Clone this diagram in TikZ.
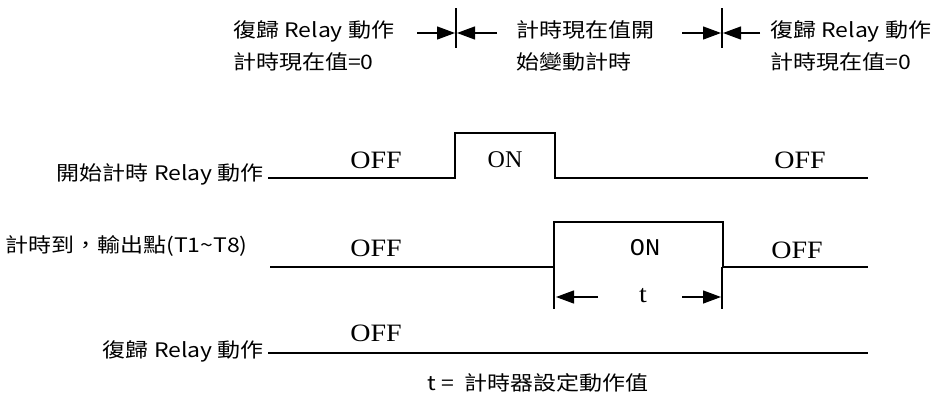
\documentclass[tikz,border=0pt]{standalone}
\usepackage{fontspec}
\setmainfont{Liberation Serif}
\newfontfamily\cjk{Noto Sans CJK TC}
\newfontfamily\monof{Liberation Mono}
\usetikzlibrary{arrows.meta}
\begin{document}
\begin{tikzpicture}[x=1pt,y=-1pt,
  sig/.style={line width=2.8pt,line join=miter,line cap=butt},
  thin/.style={line width=1.3pt},
  cjklab/.style={inner sep=0pt,font=\cjk\fontsize{20}{32}\selectfont,xscale=1.15},
  offlab/.style={inner sep=0pt,font=\fontsize{25}{25}\selectfont,xscale=1.12},
  tip/.style={-{Triangle[length=18pt,width=13pt]}},
]
\useasboundingbox (0,0) rectangle (931,394);
% top annotations
\node[cjklab,anchor=west,align=left] (n1) at (233,46) {復歸 Relay 動作\\計時現在值=0};
\node[cjklab,anchor=west,align=left] (n2) at (516,46) {計時現在值開\\始變動計時};
\node[cjklab,anchor=west,align=left] (n3) at (770,46) {復歸 Relay 動作\\計時現在值=0};
% markers
\coordinate (m1) at (456,33);
\draw[thin] (456,8) -- (456,48);
\draw[thin,tip] (417,33) -- (455,33);
\draw[thin,tip] (497,33) -- (457,33);
\coordinate (m2) at (722,33);
\draw[thin] (722,8) -- (722,48);
\draw[thin,tip] (682,33) -- (721,33);
\draw[thin,tip] (760,33) -- (723,33);
% signal 1
\node[cjklab,anchor=east] (l1) at (264,174) {開始計時 Relay 動作};
\coordinate (a0) at (268,178);
\draw[sig] (a0) -- (455,178) -- (455,133) -- (555,133) -- (555,178) -- (868,178);
\node[offlab] (o1) at (376,160) {OFF};
\node[inner sep=0pt,font=\fontsize{24}{24}\selectfont] (on1) at (505,160) {ON};
\node[offlab] (o2) at (800,160) {OFF};
% signal 2
\node[cjklab,anchor=west] (l2) at (5,246) {計時到，輸出點(T1\char`~T8)};
\coordinate (b0) at (270,267);
\draw[sig] (b0) -- (554,267) -- (554,222) -- (723,222) -- (723,267) -- (868,267);
\node[offlab] (o3) at (376,248) {OFF};
\node[inner sep=0pt,font=\monof\fontsize{24}{24}\selectfont,xscale=1.05] (on2) at (645,248) {ON};
\node[offlab] (o4) at (797,250) {OFF};
% dimension t
\draw[thin] (554,267) -- (554,309);
\draw[thin] (722,267) -- (722,309);
\draw[thin,tip] (598,297) -- (556,297);
\draw[thin,tip] (682,297) -- (721,297);
\node[offlab] (tl) at (643,296) {t};
% signal 3
\node[cjklab,anchor=east] (l3) at (264,351) {復歸 Relay 動作};
\coordinate (c0) at (268,353);
\draw[sig] (c0) -- (868,353);
\node[offlab] (o5) at (376,333) {OFF};
% bottom note
\node[cjklab,anchor=west] (note) at (427,383) {t =\ \ 計時器設定動作值};
\end{tikzpicture}
\end{document}
